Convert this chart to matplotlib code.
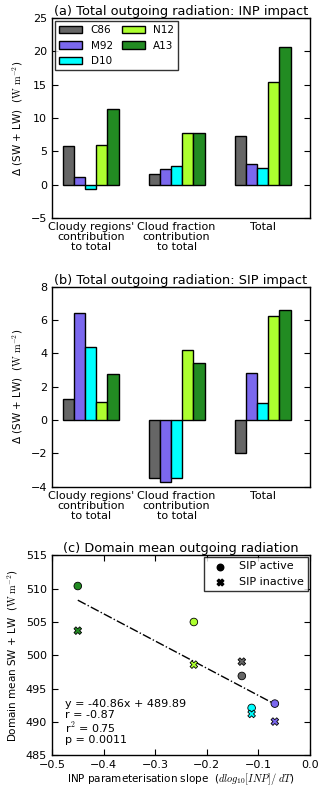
import numpy as np
import matplotlib
matplotlib.use("Agg")
import matplotlib.pyplot as plt

plt.rcParams["mathtext.fontset"] = "cm"
plt.rcParams["font.family"] = "DejaVu Sans"
plt.rcParams["xtick.direction"] = "in"
plt.rcParams["ytick.direction"] = "in"
plt.rcParams["xtick.top"] = True
plt.rcParams["ytick.right"] = True
plt.rcParams["axes.linewidth"] = 1.0

SCHEMES = ["C86", "M92", "D10", "N12", "A13"]
COLOURS = ["#666666", "#7B68EE", "#00FFFF", "#ADFF2F", "#228B22"]
GROUPS = ["Cloudy regions'\ncontribution\nto total", "Cloud fraction\ncontribution\nto total", "Total"]

# rows: scheme, columns: group
INP_IMPACT = [
    [5.75, 1.65, 7.25],
    [1.15, 2.3, 3.1],
    [-0.65, 2.75, 2.5],
    [5.9, 7.8, 15.4],
    [11.35, 7.8, 20.7],
]
SIP_IMPACT = [
    [1.24, -3.48, -1.98],
    [6.44, -3.7, 2.8],
    [4.4, -3.48, 1.0],
    [1.06, 4.2, 6.24],
    [2.78, 3.4, 6.58],
]

# panel (c)
SLOPE = [-0.132, -0.068, -0.113, -0.225, -0.45]
SIP_ON = [496.9, 492.75, 492.1, 505.0, 510.4]
SIP_OFF = [499.05, 490.05, 491.2, 498.6, 503.7]
FIT_SLOPE = -40.86
FIT_INTERCEPT = 489.89
FIT_TEXT = "y = -40.86x + 489.89\nr = -0.87\nr$^2$ = 0.75\np = 0.0011"

FS = 8
YLAB = "Δ (SW + LW)  ($\\mathrm{W\\ m^{-2}}$)"


def bar_panel(ax, values, title, ylim, yticks, legend=False):
    ind = np.arange(len(GROUPS))
    width = 0.13
    for i, name in enumerate(SCHEMES):
        ax.bar(ind + (i - 2) * width, values[i], width, color=COLOURS[i],
               edgecolor="black", linewidth=1.0, label=name)
    ax.set_xlim(-0.45, 2.55)
    ax.set_ylim(*ylim)
    ax.set_yticks(yticks)
    ax.set_xticks(ind)
    ax.set_xticklabels(GROUPS, fontsize=FS, linespacing=1.0)
    ax.tick_params(axis="x", length=0, pad=3)
    ax.tick_params(axis="y", labelsize=FS, length=4)
    ax.set_ylabel(YLAB, fontsize=FS - 0.5)
    ax.set_title(title, fontsize=9.3, pad=2)
    if legend:
        ax.legend(loc="upper left", ncol=2, fontsize=7.5, frameon=True,
                  fancybox=False, edgecolor="black", handlelength=2.2,
                  borderaxespad=0.3, columnspacing=0.9, handletextpad=0.8)


fig = plt.figure(figsize=(3.2, 7.9), dpi=100)

ax1 = fig.add_axes([0.1625, 0.724, 0.806, 0.253])
bar_panel(ax1, INP_IMPACT, "(a) Total outgoing radiation: INP impact",
          (-5, 25), range(-5, 26, 5), legend=True)

ax2 = fig.add_axes([0.1625, 0.384, 0.806, 0.253])
bar_panel(ax2, SIP_IMPACT, "(b) Total outgoing radiation: SIP impact",
          (-4, 8), range(-4, 9, 2))

ax3 = fig.add_axes([0.1625, 0.044, 0.806, 0.253])
xs = np.array([min(SLOPE), max(SLOPE)])
ax3.plot(xs, FIT_SLOPE * xs + FIT_INTERCEPT, color="black", linestyle="-.",
         linewidth=1.0, zorder=1)
ax3.scatter(SLOPE, SIP_ON, c=COLOURS, marker="o", s=30, edgecolors="black",
            linewidths=0.6, zorder=3)
ax3.scatter(SLOPE, SIP_OFF, c=COLOURS, marker="X", s=30, edgecolors="black",
            linewidths=0.6, zorder=3)
ax3.scatter([], [], c="black", marker="o", s=22, label="SIP active")
ax3.scatter([], [], c="black", marker="X", s=22, label="SIP inactive")
ax3.legend(loc="upper right", fontsize=FS, scatterpoints=1, frameon=True,
           fancybox=False, edgecolor="black", borderaxespad=0.15,
           handletextpad=0.7)
ax3.text(0.05, 0.05, FIT_TEXT, transform=ax3.transAxes, fontsize=FS,
         va="bottom", ha="left", linespacing=1.05)
ax3.set_xlim(-0.5, 0.0)
ax3.set_ylim(485, 515)
ax3.set_xticks(np.arange(-0.5, 0.01, 0.1))
ax3.set_yticks(range(485, 516, 5))
ax3.tick_params(labelsize=FS, length=4)
ax3.set_title("(c) Domain mean outgoing radiation", fontsize=9.3, pad=2)
ax3.set_ylabel("Domain mean SW + LW  ($\\mathrm{W\\ m^{-2}}$)", fontsize=FS - 0.5)
ax3.set_xlabel("INP parameterisation slope  ($dlog_{10}[INP]/\\ dT$)",
               fontsize=FS - 0.5, labelpad=1)

fig.savefig("out.png", dpi=100)
